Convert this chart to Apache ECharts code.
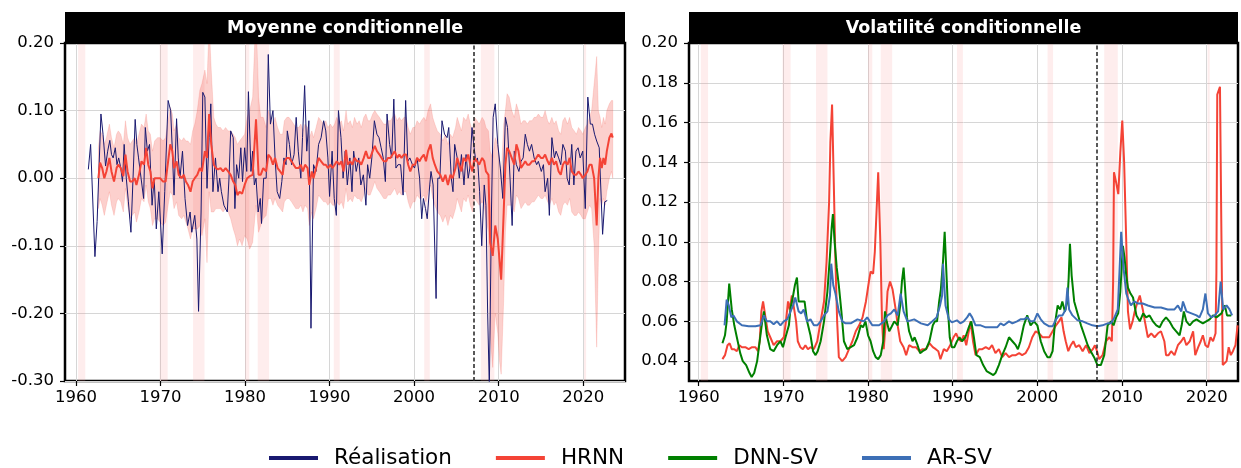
<!DOCTYPE html>
<html>
<head>
<meta charset="utf-8">
<script src="https://cdn.jsdelivr.net/npm/echarts@6/dist/echarts.min.js"></script>
<style>
  html, body { margin: 0; padding: 0; background: #fff; }
  #chart { width: 1241px; height: 468px; }
</style>
</head>
<body>
<div id="chart"></div>
<script>
// ---------------------------------------------------------------- data
const decadeTicks = [1960, 1970, 1980, 1990, 2000, 2010, 2020];
const meanTicks = [-0.3, -0.2, -0.1, 0, 0.1, 0.2];
const volTicks = [0.04, 0.06, 0.08, 0.10, 0.12, 0.14, 0.16, 0.18, 0.20];

// NBER recessions [start, end]
const recessions = [
  [1960.25, 1961.1], [1969.9, 1970.85], [1973.85, 1975.2], [1980.0, 1980.5],
  [1981.5, 1982.85], [1990.5, 1991.2], [2001.2, 2001.85], [2007.9, 2009.5],
  [2020.1, 2020.35]
];
const forecastStart = 2007;

// realised value [year, value]
const realisation = [
  [1961.46,0.013],[1961.73,0.05],[1962.24,-0.116],[1962.5,-0.064],[1962.95,0.095],[1963.2,0.065],[1963.5,0.018],[1963.75,0.04],
  [1964.0,0.056],[1964.2,0.035],[1964.4,0.03],[1964.65,0.045],[1964.85,0.02],[1965.05,0.03],[1965.3,0.015],[1965.5,-0.005],
  [1965.7,0.05],[1965.95,0.0],[1966.2,-0.035],[1966.5,-0.08],[1966.75,0.0],[1967.0,0.087],[1967.2,0.05],[1967.4,0.03],
  [1967.7,0.0],[1968.0,-0.03],[1968.2,0.075],[1968.45,0.04],[1968.7,0.05],[1969.0,-0.04],[1969.25,0.0],[1969.5,-0.075],
  [1969.8,-0.02],[1970.2,-0.112],[1970.5,-0.02],[1970.9,0.115],[1971.2,0.1],[1971.4,0.04],[1971.6,-0.025],[1971.9,0.088],
  [1972.1,0.03],[1972.3,0.0],[1972.6,0.04],[1972.9,-0.03],[1973.2,-0.07],[1973.5,-0.05],[1973.7,-0.08],[1974.05,-0.055],
  [1974.3,-0.09],[1974.5,-0.197],[1974.8,-0.05],[1975.0,0.127],[1975.25,0.12],[1975.5,-0.015],[1975.75,0.06],[1975.95,0.11],
  [1976.2,-0.02],[1976.5,0.03],[1976.8,-0.02],[1977.0,0.0],[1977.2,-0.02],[1977.5,-0.04],[1977.9,-0.05],[1978.1,0.0],
  [1978.3,0.07],[1978.6,0.06],[1978.8,-0.045],[1979.0,0.02],[1979.25,0.0],[1979.5,0.045],[1979.7,-0.005],[1979.95,0.045],
  [1980.2,0.01],[1980.4,0.128],[1980.7,0.01],[1980.9,0.04],[1981.1,-0.01],[1981.3,0.0],[1981.55,-0.05],[1981.8,-0.03],
  [1981.95,-0.067],[1982.2,0.0],[1982.5,0.0],[1982.75,0.183],[1983.0,0.08],[1983.3,0.1],[1983.55,0.03],[1983.8,-0.02],
  [1984.1,-0.03],[1984.35,-0.005],[1984.6,0.03],[1984.85,0.02],[1985.0,0.07],[1985.25,0.05],[1985.5,0.02],[1985.8,0.035],
  [1986.05,0.09],[1986.3,0.04],[1986.6,0.0],[1986.8,0.06],[1987.05,0.137],[1987.3,0.04],[1987.55,0.085],[1987.8,-0.222],
  [1988.1,0.02],[1988.4,0.01],[1988.7,0.05],[1989.0,0.06],[1989.3,0.085],[1989.55,0.07],[1989.8,0.03],[1990.0,-0.027],
  [1990.3,0.04],[1990.55,-0.03],[1990.8,-0.055],[1991.05,0.1],[1991.35,0.06],[1991.6,0.0],[1991.85,0.04],[1992.1,-0.01],
  [1992.4,0.03],[1992.65,-0.02],[1992.85,0.04],[1993.15,0.01],[1993.45,0.03],[1993.7,-0.01],[1994.0,0.005],[1994.3,-0.04],
  [1994.5,0.02],[1994.75,0.0],[1995.0,0.03],[1995.3,0.085],[1995.6,0.065],[1995.85,0.06],[1996.1,0.045],[1996.35,0.03],
  [1996.6,-0.005],[1996.8,0.095],[1997.1,0.05],[1997.35,0.03],[1997.6,0.117],[1997.85,0.015],[1998.1,0.02],[1998.4,0.02],
  [1998.7,-0.025],[1999.0,0.115],[1999.25,0.025],[1999.5,0.03],[1999.8,0.02],[2000.05,0.015],[2000.35,0.03],[2000.65,0.0],
  [2000.9,-0.06],[2001.1,-0.03],[2001.35,-0.045],[2001.55,-0.06],[2001.85,-0.01],[2002.0,0.01],[2002.25,-0.01],[2002.6,-0.178],
  [2002.8,0.0],[2003.05,0.0],[2003.3,0.085],[2003.6,0.065],[2003.9,0.06],[2004.1,0.075],[2004.4,0.0],[2004.6,-0.02],
  [2004.8,0.05],[2005.1,0.03],[2005.35,0.0],[2005.6,0.035],[2005.9,-0.01],[2006.15,0.035],[2006.4,0.0],[2006.6,0.015],
  [2006.85,0.075],[2007.1,0.045],[2007.3,0.025],[2007.5,0.03],[2007.75,-0.02],[2008.0,-0.1],[2008.3,-0.01],[2008.5,-0.04],
  [2008.7,-0.2],[2008.9,-0.31],[2009.15,-0.05],[2009.35,0.09],[2009.6,0.11],[2009.9,0.05],[2010.2,0.015],[2010.5,-0.03],
  [2010.8,0.09],[2011.05,0.075],[2011.35,0.0],[2011.6,-0.07],[2011.85,0.04],[2012.1,0.02],[2012.4,0.01],[2012.65,0.025],
  [2012.9,0.03],[2013.15,0.065],[2013.4,0.05],[2013.65,0.04],[2013.9,0.05],[2014.2,0.03],[2014.5,0.02],[2014.7,0.025],
  [2015.05,0.01],[2015.3,0.02],[2015.5,-0.02],[2015.8,0.0],[2016.0,-0.055],[2016.3,0.06],[2016.6,0.03],[2016.8,0.04],
  [2017.1,0.03],[2017.35,0.02],[2017.6,0.05],[2017.9,0.04],[2018.1,0.0],[2018.35,-0.01],[2018.65,0.05],[2018.9,-0.01],
  [2019.15,0.04],[2019.4,0.045],[2019.65,0.03],[2019.95,0.04],[2020.25,-0.045],[2020.55,0.12],[2020.85,0.08],[2021.1,0.08],
  [2021.35,0.065],[2021.6,0.055],[2021.9,0.045],[2022.3,-0.083],[2022.55,-0.035],[2022.85,-0.033]
];

// HRNN conditional mean [year, value]
const hrnnMean = [
  [1962.65,0.0],[1962.85,0.023],[1963.1,0.015],[1963.35,0.0],[1963.6,0.01],[1963.95,0.03],[1964.2,0.01],[1964.5,-0.005],
  [1964.8,0.015],[1965.0,0.02],[1965.3,0.015],[1965.6,0.003],[1965.85,0.035],[1966.1,0.01],[1966.4,-0.005],[1966.65,-0.005],
  [1966.95,0.0],[1967.15,-0.01],[1967.45,0.005],[1967.75,0.025],[1968.05,0.02],[1968.3,0.045],[1968.55,0.02],[1968.8,0.01],
  [1969.05,-0.015],[1969.3,0.0],[1969.65,0.0],[1969.95,0.0],[1970.3,-0.005],[1970.6,-0.005],[1970.9,0.025],[1971.15,0.05],
  [1971.4,0.04],[1971.6,0.015],[1971.9,0.025],[1972.15,0.005],[1972.5,0.0],[1972.75,0.005],[1973.0,-0.005],[1973.25,-0.01],
  [1973.55,-0.02],[1973.8,-0.005],[1974.05,0.0],[1974.35,0.005],[1974.65,0.015],[1974.9,0.01],[1975.25,0.04],[1975.5,0.03],
  [1975.75,0.095],[1976.0,0.05],[1976.3,0.02],[1976.55,0.015],[1976.8,0.013],[1977.1,0.015],[1977.4,0.01],[1977.7,0.015],
  [1978.0,0.01],[1978.3,0.005],[1978.6,-0.005],[1978.85,-0.01],[1979.1,-0.025],[1979.35,-0.02],[1979.65,-0.023],[1979.95,-0.01],
  [1980.25,0.0],[1980.55,0.003],[1980.9,0.005],[1981.3,0.087],[1981.6,0.005],[1981.85,0.005],[1982.15,0.015],[1982.5,0.01],
  [1982.75,0.035],[1983.05,0.03],[1983.3,0.02],[1983.55,0.03],[1983.85,0.015],[1984.15,0.01],[1984.45,0.005],[1984.65,0.025],
  [1984.95,0.03],[1985.2,0.03],[1985.5,0.025],[1985.75,0.02],[1986.0,0.015],[1986.35,0.015],[1986.6,0.02],[1986.85,0.01],
  [1987.1,0.02],[1987.4,0.015],[1987.6,-0.01],[1987.9,0.01],[1988.1,0.0],[1988.4,0.015],[1988.7,0.03],[1989.0,0.025],
  [1989.3,0.02],[1989.55,0.02],[1989.8,0.015],[1990.1,0.02],[1990.35,0.015],[1990.6,0.02],[1990.85,0.025],[1991.15,0.02],
  [1991.4,0.025],[1991.65,0.01],[1991.95,0.042],[1992.15,0.02],[1992.45,0.025],[1992.7,0.02],[1992.95,0.03],[1993.25,0.025],
  [1993.5,0.025],[1993.75,0.02],[1994.05,0.03],[1994.3,0.04],[1994.55,0.03],[1994.8,0.03],[1995.1,0.04],[1995.35,0.048],
  [1995.6,0.04],[1995.9,0.035],[1996.15,0.03],[1996.4,0.025],[1996.7,0.025],[1996.9,0.03],[1997.2,0.03],[1997.45,0.035],
  [1997.7,0.04],[1998.0,0.03],[1998.25,0.035],[1998.5,0.03],[1998.8,0.035],[1999.05,0.035],[1999.3,0.02],[1999.55,0.01],
  [1999.85,0.02],[2000.1,0.02],[2000.35,0.03],[2000.65,0.025],[2000.85,0.03],[2001.15,0.035],[2001.4,0.025],[2001.65,0.04],
  [2001.95,0.05],[2002.2,0.03],[2002.45,0.02],[2002.75,0.01],[2003.1,0.005],[2003.4,-0.005],[2003.7,0.005],[2004.0,-0.01],
  [2004.3,0.005],[2004.55,0.0],[2004.9,0.015],[2005.1,0.03],[2005.35,0.02],[2005.6,0.01],[2005.85,0.03],[2006.15,0.025],
  [2006.4,0.035],[2006.65,0.02],[2006.9,0.01],[2007.15,0.03],[2007.45,0.025],[2007.7,0.02],[2008.05,0.03],[2008.3,0.025],
  [2008.5,0.01],[2008.8,0.005],[2009.0,-0.095],[2009.3,-0.115],[2009.6,-0.07],[2009.9,-0.09],[2010.1,-0.12],[2010.3,-0.15],
  [2010.6,-0.05],[2010.8,0.02],[2011.0,0.045],[2011.25,0.04],[2011.55,0.03],[2011.85,0.02],[2012.1,0.05],[2012.35,0.04],
  [2012.65,0.015],[2012.9,0.02],[2013.15,0.025],[2013.4,0.02],[2013.65,0.02],[2013.95,0.025],[2014.2,0.025],[2014.45,0.03],
  [2014.7,0.035],[2015.0,0.03],[2015.25,0.03],[2015.5,0.035],[2015.8,0.025],[2016.0,0.02],[2016.3,0.03],[2016.55,0.02],
  [2016.8,0.025],[2017.1,0.01],[2017.35,0.005],[2017.6,0.02],[2017.85,0.025],[2018.15,0.02],[2018.4,0.03],[2018.65,0.01],
  [2018.95,0.005],[2019.2,0.005],[2019.45,0.01],[2019.75,0.005],[2019.95,0.0],[2020.25,0.005],[2020.5,0.01],[2020.75,0.02],
  [2021.0,0.02],[2021.3,0.0],[2021.6,-0.07],[2021.8,0.0],[2022.0,0.03],[2022.2,0.015],[2022.4,0.03],[2022.6,0.02],
  [2022.8,0.04],[2023.1,0.06],[2023.35,0.066],[2023.5,0.06]
];

// HRNN interval around the mean [year, low, high]
const hrnnBand = [
  [1962.65,-0.045,0.045],[1962.85,-0.03,0.07],[1963.1,-0.04,0.065],[1963.35,-0.055,0.05],[1963.6,-0.04,0.06],[1963.95,-0.02,0.08],
  [1964.2,-0.04,0.06],[1964.5,-0.055,0.045],[1964.8,-0.035,0.065],[1965.0,-0.03,0.07],[1965.3,-0.035,0.065],[1965.6,-0.05,0.05],
  [1965.85,-0.015,0.085],[1966.1,-0.04,0.06],[1966.4,-0.06,0.05],[1966.65,-0.055,0.055],[1966.95,-0.05,0.06],[1967.15,-0.065,0.05],
  [1967.45,-0.05,0.065],[1967.75,-0.03,0.08],[1968.05,-0.035,0.075],[1968.3,-0.01,0.095],[1968.55,-0.035,0.07],[1968.8,-0.045,0.065],
  [1969.05,-0.07,0.04],[1969.3,-0.06,0.055],[1969.65,-0.06,0.06],[1969.95,-0.065,0.06],[1970.3,-0.07,0.055],[1970.6,-0.065,0.06],
  [1970.9,-0.04,0.085],[1971.15,-0.02,0.105],[1971.4,-0.025,0.095],[1971.6,-0.045,0.07],[1971.9,-0.035,0.08],[1972.15,-0.055,0.06],
  [1972.5,-0.06,0.055],[1972.75,-0.055,0.06],[1973.0,-0.065,0.055],[1973.25,-0.075,0.055],[1973.55,-0.09,0.05],[1973.8,-0.075,0.07],
  [1974.05,-0.075,0.08],[1974.35,-0.075,0.1],[1974.65,-0.07,0.13],[1974.9,-0.085,0.14],[1975.25,-0.06,0.16],[1975.5,-0.125,0.14],
  [1975.75,-0.02,0.23],[1976.0,-0.05,0.16],[1976.3,-0.05,0.09],[1976.55,-0.045,0.08],[1976.8,-0.045,0.075],[1977.1,-0.045,0.075],
  [1977.4,-0.05,0.07],[1977.7,-0.045,0.075],[1978.0,-0.05,0.07],[1978.3,-0.06,0.07],[1978.6,-0.075,0.065],[1978.85,-0.085,0.06],
  [1979.1,-0.1,0.05],[1979.35,-0.09,0.055],[1979.65,-0.1,0.06],[1979.95,-0.085,0.065],[1980.25,-0.09,0.09],[1980.55,-0.105,0.1],
  [1980.9,-0.095,0.12],[1981.3,-0.04,0.25],[1981.6,-0.08,0.12],[1981.85,-0.07,0.09],[1982.15,-0.06,0.09],[1982.5,-0.055,0.075],
  [1982.75,-0.03,0.1],[1983.05,-0.03,0.09],[1983.3,-0.04,0.08],[1983.55,-0.03,0.09],[1983.85,-0.04,0.075],[1984.15,-0.045,0.065],
  [1984.45,-0.05,0.065],[1984.65,-0.035,0.085],[1984.95,-0.03,0.09],[1985.2,-0.03,0.09],[1985.5,-0.035,0.085],[1985.75,-0.04,0.08],
  [1986.0,-0.045,0.075],[1986.35,-0.045,0.075],[1986.6,-0.04,0.08],[1986.85,-0.05,0.07],[1987.1,-0.04,0.08],[1987.4,-0.045,0.075],
  [1987.6,-0.07,0.06],[1987.9,-0.05,0.07],[1988.1,-0.06,0.06],[1988.4,-0.045,0.075],[1988.7,-0.025,0.09],[1989.0,-0.03,0.085],
  [1989.3,-0.035,0.08],[1989.55,-0.035,0.085],[1989.8,-0.04,0.075],[1990.1,-0.035,0.08],[1990.35,-0.04,0.075],[1990.6,-0.04,0.08],
  [1990.85,-0.035,0.09],[1991.15,-0.04,0.08],[1991.4,-0.035,0.085],[1991.65,-0.045,0.07],[1991.95,-0.015,0.1],[1992.15,-0.035,0.08],
  [1992.45,-0.03,0.085],[1992.7,-0.035,0.075],[1992.95,-0.025,0.09],[1993.25,-0.03,0.08],[1993.5,-0.03,0.085],[1993.75,-0.035,0.075],
  [1994.05,-0.025,0.09],[1994.3,-0.015,0.095],[1994.55,-0.025,0.085],[1994.8,-0.025,0.085],[1995.1,-0.015,0.095],[1995.35,-0.005,0.1],
  [1995.6,-0.015,0.095],[1995.9,-0.02,0.09],[1996.15,-0.025,0.085],[1996.4,-0.03,0.08],[1996.7,-0.03,0.08],[1996.9,-0.025,0.085],
  [1997.2,-0.025,0.085],[1997.45,-0.02,0.09],[1997.7,-0.015,0.095],[1998.0,-0.025,0.085],[1998.25,-0.02,0.09],[1998.5,-0.025,0.085],
  [1998.8,-0.02,0.09],[1999.05,-0.02,0.09],[1999.3,-0.035,0.075],[1999.55,-0.045,0.065],[1999.85,-0.035,0.075],[2000.1,-0.035,0.075],
  [2000.35,-0.025,0.085],[2000.65,-0.03,0.08],[2000.85,-0.03,0.085],[2001.15,-0.025,0.09],[2001.4,-0.035,0.085],[2001.65,-0.02,0.1],
  [2001.95,-0.01,0.11],[2002.2,-0.03,0.09],[2002.45,-0.04,0.08],[2002.75,-0.05,0.07],[2003.1,-0.055,0.065],[2003.4,-0.065,0.055],
  [2003.7,-0.055,0.065],[2004.0,-0.07,0.05],[2004.3,-0.055,0.065],[2004.55,-0.06,0.06],[2004.9,-0.045,0.075],[2005.1,-0.03,0.09],
  [2005.35,-0.04,0.08],[2005.6,-0.05,0.07],[2005.85,-0.03,0.09],[2006.15,-0.035,0.085],[2006.4,-0.025,0.095],[2006.65,-0.04,0.08],
  [2006.9,-0.05,0.07],[2007.15,-0.03,0.09],[2007.45,-0.035,0.085],[2007.7,-0.04,0.08],[2008.05,-0.035,0.09],[2008.3,-0.04,0.085],
  [2008.5,-0.06,0.075],[2008.8,-0.08,0.07],[2009.0,-0.23,0.04],[2009.3,-0.28,0.03],[2009.6,-0.2,0.06],[2009.9,-0.23,0.05],
  [2010.1,-0.27,0.03],[2010.3,-0.29,0.0],[2010.6,-0.18,0.08],[2010.8,-0.08,0.1],[2011.0,-0.04,0.125],[2011.25,-0.04,0.12],
  [2011.55,-0.04,0.1],[2011.85,-0.05,0.09],[2012.1,-0.025,0.11],[2012.35,-0.03,0.1],[2012.65,-0.045,0.08],[2012.9,-0.04,0.085],
  [2013.15,-0.035,0.085],[2013.4,-0.04,0.08],[2013.65,-0.04,0.085],[2013.95,-0.035,0.085],[2014.2,-0.035,0.09],[2014.45,-0.03,0.09],
  [2014.7,-0.025,0.095],[2015.0,-0.03,0.09],[2015.25,-0.03,0.09],[2015.5,-0.025,0.1],[2015.8,-0.035,0.085],[2016.0,-0.04,0.08],
  [2016.3,-0.03,0.09],[2016.55,-0.04,0.08],[2016.8,-0.035,0.085],[2017.1,-0.05,0.07],[2017.35,-0.055,0.065],[2017.6,-0.04,0.085],
  [2017.85,-0.035,0.09],[2018.15,-0.04,0.08],[2018.4,-0.03,0.09],[2018.65,-0.05,0.075],[2018.95,-0.055,0.07],[2019.2,-0.055,0.065],
  [2019.45,-0.05,0.075],[2019.75,-0.055,0.07],[2019.95,-0.06,0.065],[2020.25,-0.06,0.075],[2020.5,-0.05,0.08],[2020.75,-0.04,0.09],
  [2021.0,-0.045,0.1],[2021.3,-0.1,0.14],[2021.6,-0.25,0.18],[2021.8,-0.12,0.1],[2022.0,-0.03,0.09],[2022.2,-0.04,0.075],
  [2022.4,-0.03,0.09],[2022.6,-0.04,0.08],[2022.8,-0.02,0.1],[2023.1,0.0,0.11],[2023.35,0.01,0.115],[2023.5,0.0,0.115]
];

// conditional volatility [year, value]
const hrnnVol = [
  [1962.8,0.041],[1963.1,0.043],[1963.4,0.048],[1963.65,0.049],[1963.9,0.046],[1964.2,0.046],[1964.5,0.045],[1964.8,0.048],
  [1965.1,0.047],[1965.5,0.047],[1965.9,0.046],[1966.3,0.047],[1966.7,0.047],[1967.0,0.045],[1967.2,0.05],[1967.4,0.065],
  [1967.6,0.07],[1967.85,0.063],[1968.15,0.055],[1968.45,0.052],[1968.85,0.048],[1969.25,0.05],[1969.65,0.05],[1970.05,0.052],
  [1970.3,0.06],[1970.55,0.07],[1970.75,0.066],[1971.0,0.073],[1971.2,0.068],[1971.5,0.06],[1971.7,0.05],[1972.0,0.047],
  [1972.3,0.046],[1972.6,0.048],[1972.9,0.046],[1973.2,0.047],[1973.6,0.046],[1974.0,0.05],[1974.4,0.06],[1974.8,0.07],
  [1975.1,0.09],[1975.4,0.12],[1975.55,0.15],[1975.75,0.169],[1975.95,0.13],[1976.15,0.09],[1976.35,0.06],[1976.55,0.042],
  [1976.95,0.04],[1977.35,0.042],[1977.75,0.046],[1978.15,0.05],[1978.55,0.055],[1978.95,0.058],[1979.35,0.062],[1979.75,0.07],
  [1980.1,0.08],[1980.3,0.085],[1980.6,0.084],[1980.8,0.095],[1981.05,0.12],[1981.2,0.135],[1981.45,0.1],[1981.65,0.06],
  [1981.85,0.046],[1982.1,0.06],[1982.3,0.075],[1982.6,0.08],[1982.9,0.076],[1983.1,0.076],[1983.3,0.065],[1983.5,0.058],
  [1983.8,0.05],[1984.2,0.047],[1984.5,0.043],[1984.85,0.048],[1985.25,0.047],[1985.65,0.047],[1986.05,0.045],[1986.45,0.046],
  [1986.85,0.046],[1987.25,0.049],[1987.65,0.047],[1988.0,0.046],[1988.3,0.045],[1988.55,0.041],[1988.95,0.046],[1989.3,0.045],
  [1989.7,0.048],[1990.1,0.052],[1990.4,0.054],[1990.7,0.051],[1991.0,0.05],[1991.3,0.053],[1991.6,0.048],[1991.9,0.055],
  [1992.1,0.06],[1992.4,0.05],[1992.7,0.043],[1993.1,0.046],[1993.5,0.046],[1993.9,0.047],[1994.3,0.046],[1994.65,0.048],
  [1995.05,0.044],[1995.45,0.046],[1995.85,0.042],[1996.25,0.044],[1996.65,0.042],[1997.05,0.043],[1997.45,0.043],[1997.85,0.044],
  [1998.2,0.043],[1998.6,0.044],[1999.0,0.047],[1999.4,0.052],[1999.8,0.055],[2000.2,0.054],[2000.6,0.052],[2001.0,0.052],
  [2001.4,0.052],[2001.8,0.055],[2002.2,0.058],[2002.55,0.06],[2002.85,0.062],[2003.1,0.055],[2003.35,0.05],[2003.65,0.045],
  [2003.95,0.048],[2004.25,0.05],[2004.55,0.047],[2004.95,0.048],[2005.35,0.045],[2005.75,0.048],[2006.15,0.044],[2006.55,0.046],
  [2006.8,0.048],[2007.05,0.045],[2007.3,0.041],[2007.7,0.043],[2008.1,0.05],[2008.5,0.052],[2008.8,0.05],[2008.95,0.08],
  [2009.05,0.135],[2009.3,0.13],[2009.56,0.124],[2009.8,0.145],[2010.03,0.161],[2010.25,0.14],[2010.5,0.1],[2010.7,0.065],
  [2010.95,0.056],[2011.25,0.06],[2011.5,0.065],[2011.85,0.07],[2012.1,0.073],[2012.45,0.066],[2012.7,0.06],[2013.05,0.052],
  [2013.45,0.054],[2013.85,0.052],[2014.25,0.054],[2014.6,0.055],[2015.0,0.05],[2015.2,0.043],[2015.5,0.043],[2015.8,0.045],
  [2016.2,0.043],[2016.6,0.048],[2017.0,0.05],[2017.3,0.052],[2017.6,0.048],[2018.0,0.05],[2018.4,0.055],[2018.65,0.043],
  [2019.0,0.047],[2019.3,0.05],[2019.55,0.053],[2019.85,0.048],[2020.15,0.047],[2020.45,0.052],[2020.75,0.05],[2021.05,0.054],
  [2021.15,0.085],[2021.25,0.174],[2021.57,0.178],[2021.75,0.1],[2021.9,0.038],[2022.35,0.04],[2022.6,0.047],[2022.85,0.043],
  [2023.1,0.045],[2023.4,0.048],[2023.65,0.058]
];

const dnnsvVol = [
  [1962.8,0.049],[1963.1,0.053],[1963.3,0.06],[1963.6,0.079],[1963.9,0.066],[1964.2,0.058],[1964.5,0.052],[1964.9,0.044],
  [1965.2,0.04],[1965.6,0.038],[1966.0,0.034],[1966.25,0.032],[1966.55,0.034],[1966.9,0.04],[1967.2,0.05],[1967.5,0.06],
  [1967.7,0.065],[1968.05,0.053],[1968.45,0.046],[1968.85,0.045],[1969.25,0.048],[1969.65,0.05],[1969.95,0.047],[1970.25,0.052],
  [1970.65,0.058],[1970.85,0.067],[1971.15,0.073],[1971.35,0.078],[1971.6,0.082],[1971.8,0.07],[1972.2,0.07],[1972.5,0.07],
  [1972.8,0.06],[1973.2,0.053],[1973.5,0.045],[1973.8,0.043],[1974.05,0.045],[1974.4,0.05],[1974.8,0.06],[1975.2,0.075],
  [1975.5,0.093],[1975.7,0.107],[1975.85,0.114],[1976.05,0.1],[1976.3,0.087],[1976.55,0.078],[1976.85,0.065],[1977.15,0.05],
  [1977.55,0.046],[1977.95,0.047],[1978.35,0.048],[1978.75,0.052],[1979.15,0.058],[1979.4,0.057],[1979.7,0.06],[1980.0,0.053],
  [1980.3,0.05],[1980.6,0.045],[1980.9,0.042],[1981.2,0.041],[1981.5,0.043],[1981.8,0.05],[1982.0,0.065],[1982.2,0.06],
  [1982.5,0.055],[1982.75,0.057],[1983.1,0.06],[1983.5,0.058],[1983.8,0.068],[1984.0,0.08],[1984.2,0.087],[1984.35,0.078],
  [1984.6,0.062],[1984.85,0.055],[1985.25,0.05],[1985.5,0.052],[1985.85,0.048],[1986.15,0.044],[1986.45,0.045],[1986.85,0.046],
  [1987.25,0.05],[1987.65,0.058],[1987.9,0.06],[1988.15,0.06],[1988.4,0.07],[1988.6,0.076],[1988.85,0.09],[1989.05,0.105],
  [1989.25,0.085],[1989.45,0.065],[1989.65,0.052],[1989.9,0.047],[1990.2,0.047],[1990.5,0.05],[1990.8,0.052],[1991.1,0.05],
  [1991.5,0.052],[1991.9,0.057],[1992.2,0.06],[1992.5,0.052],[1992.8,0.043],[1993.2,0.042],[1993.6,0.038],[1994.0,0.035],
  [1994.4,0.034],[1994.8,0.033],[1995.05,0.034],[1995.45,0.038],[1995.85,0.043],[1996.25,0.047],[1996.65,0.052],[1997.05,0.05],
  [1997.45,0.048],[1997.7,0.046],[1998.0,0.05],[1998.4,0.058],[1998.8,0.063],[1999.2,0.058],[1999.6,0.06],[2000.0,0.058],
  [2000.4,0.05],[2000.8,0.045],[2001.2,0.042],[2001.5,0.042],[2001.8,0.045],[2002.05,0.058],[2002.4,0.068],[2002.7,0.066],
  [2002.95,0.07],[2003.25,0.065],[2003.55,0.07],[2003.7,0.082],[2003.85,0.099],[2004.05,0.083],[2004.35,0.07],[2004.75,0.064],
  [2005.15,0.058],[2005.55,0.053],[2005.95,0.048],[2006.3,0.045],[2006.7,0.042],[2007.1,0.038],[2007.5,0.038],[2007.9,0.043],
  [2008.3,0.058],[2008.7,0.06],[2009.0,0.058],[2009.3,0.062],[2009.55,0.064],[2009.8,0.075],[2010.1,0.098],[2010.3,0.092],
  [2010.5,0.083],[2010.7,0.077],[2011.0,0.074],[2011.3,0.072],[2011.7,0.063],[2012.1,0.06],[2012.5,0.064],[2012.85,0.062],
  [2013.25,0.063],[2013.65,0.06],[2014.05,0.058],[2014.45,0.057],[2014.8,0.06],[2015.2,0.062],[2015.6,0.06],[2016.0,0.057],
  [2016.4,0.055],[2016.8,0.053],[2017.05,0.058],[2017.3,0.065],[2017.6,0.06],[2018.0,0.058],[2018.4,0.06],[2018.8,0.061],
  [2019.15,0.06],[2019.55,0.059],[2019.95,0.06],[2020.35,0.061],[2020.75,0.063],[2021.15,0.062],[2021.45,0.063],[2021.75,0.064],
  [2022.15,0.068],[2022.4,0.063],[2022.7,0.063],[2022.9,0.063]
];

const arsvVol = [
  [1963.05,0.058],[1963.3,0.071],[1963.55,0.068],[1963.85,0.062],[1964.1,0.063],[1964.5,0.06],[1965.1,0.058],[1965.9,0.0575],
  [1966.7,0.0575],[1967.3,0.058],[1967.7,0.063],[1968.05,0.06],[1968.45,0.06],[1968.85,0.0585],[1969.25,0.06],[1969.65,0.058],
  [1970.05,0.06],[1970.45,0.061],[1970.75,0.064],[1971.15,0.068],[1971.4,0.072],[1971.8,0.065],[1972.1,0.064],[1972.4,0.066],
  [1972.8,0.06],[1973.2,0.061],[1973.6,0.058],[1974.0,0.058],[1974.4,0.06],[1974.8,0.063],[1975.2,0.065],[1975.5,0.073],
  [1975.65,0.089],[1975.9,0.078],[1976.15,0.074],[1976.55,0.065],[1976.95,0.06],[1977.35,0.059],[1977.95,0.059],[1978.75,0.061],
  [1979.5,0.06],[1979.9,0.062],[1980.5,0.058],[1981.3,0.058],[1981.9,0.06],[1982.3,0.063],[1982.7,0.064],[1983.1,0.066],
  [1983.5,0.063],[1983.85,0.074],[1984.2,0.065],[1984.65,0.06],[1985.45,0.061],[1986.25,0.059],[1987.05,0.058],[1987.6,0.06],
  [1988.1,0.062],[1988.5,0.068],[1988.75,0.073],[1988.85,0.089],[1989.15,0.068],[1989.55,0.061],[1989.9,0.0595],[1990.5,0.0605],
  [1990.9,0.059],[1991.3,0.06],[1991.7,0.062],[1992.0,0.064],[1992.3,0.062],[1992.7,0.058],[1993.3,0.058],[1993.9,0.057],
  [1994.5,0.057],[1995.25,0.057],[1995.65,0.059],[1996.05,0.058],[1996.65,0.06],[1997.05,0.059],[1997.6,0.06],[1998.0,0.061],
  [1998.4,0.061],[1998.8,0.062],[1999.2,0.06],[1999.6,0.06],[2000.0,0.064],[2000.4,0.061],[2000.8,0.059],[2001.4,0.0575],
  [2001.8,0.0575],[2002.2,0.061],[2002.55,0.063],[2002.95,0.063],[2003.35,0.066],[2003.55,0.077],[2003.75,0.066],[2004.15,0.063],
  [2004.75,0.0605],[2005.35,0.06],[2005.9,0.059],[2006.5,0.058],[2007.1,0.0575],[2007.7,0.058],[2008.3,0.059],[2008.7,0.059],
  [2009.1,0.062],[2009.5,0.066],[2009.7,0.085],[2009.9,0.105],[2010.2,0.086],[2010.5,0.074],[2010.75,0.071],[2011.05,0.068],
  [2011.45,0.07],[2011.85,0.069],[2012.45,0.069],[2013.05,0.068],[2013.85,0.067],[2014.6,0.067],[2015.4,0.066],[2016.2,0.066],
  [2016.6,0.068],[2017.0,0.065],[2017.2,0.07],[2017.6,0.065],[2018.2,0.064],[2018.8,0.063],[2019.15,0.062],[2019.55,0.066],
  [2019.85,0.074],[2020.15,0.064],[2020.55,0.062],[2020.95,0.063],[2021.35,0.065],[2021.65,0.08],[2021.95,0.066],[2022.35,0.068],
  [2022.7,0.066],[2023.0,0.063]
];

// ---------------------------------------------------------------- style
const FONT = 'DejaVu Sans';
const C_REAL = '#191970';
const C_HRNN = '#f44336';
const C_DNN = '#008000';
const C_AR = '#3d6fb6';
const C_GRID = '#d6d6d6';
const C_RECESSION = 'rgba(250, 140, 140, 0.16)';
const C_BAND = 'rgba(244, 67, 54, 0.25)';
const C_BAND_EDGE = 'rgba(244, 67, 54, 0.15)';

const recessionArea = {
  silent: true,
  itemStyle: { color: C_RECESSION },
  data: recessions.map(r => [{ xAxis: r[0] }, { xAxis: r[1] }])
};
const forecastLine = {
  silent: true,
  symbol: 'none',
  label: { show: false },
  lineStyle: { color: '#222', type: [4, 2.5], width: 1.5 },
  data: [{ xAxis: forecastStart }]
};

function xAxisFor(gridIndex, min, max) {
  return {
    type: 'value', gridIndex, min, max,
    axisLine: { show: false, onZero: false },
    axisTick: { show: true, customValues: decadeTicks, length: 5, lineStyle: { color: '#000', width: 1.2 } },
    axisLabel: {
      customValues: decadeTicks, margin: 8, fontFamily: FONT, fontSize: 16.5, color: '#000',
      formatter: v => String(Math.round(v))
    },
    splitLine: { show: true, lineStyle: { color: C_GRID, width: 1 } }
  };
}
function yAxisFor(gridIndex, min, max, ticks) {
  return {
    type: 'value', gridIndex, min, max,
    axisLine: { show: false },
    axisTick: { show: true, customValues: ticks, length: 5, lineStyle: { color: '#000', width: 1.2 } },
    axisLabel: {
      customValues: ticks, margin: 11, fontFamily: FONT, fontSize: 16.5, color: '#000',
      formatter: v => Number(v).toFixed(2)
    },
    splitLine: { show: true, lineStyle: { color: C_GRID, width: 1 } }
  };
}
function titleBar(x, w, text) {
  return [
    { type: 'rect', shape: { x, y: 12, width: w, height: 32 }, style: { fill: '#000' }, z: 10 },
    {
      type: 'text', x: x + w / 2, y: 28, z: 11,
      style: { text, fill: '#fff', font: 'bold 17.5px "DejaVu Sans"', align: 'center', verticalAlign: 'middle' }
    }
  ];
}

// interval band: one polygon (upper edge forward, lower edge back), clipped to the plot
function renderBand(params, api) {
  const upper = hrnnBand.map(d => api.coord([d[0], d[2]]));
  const lower = hrnnBand.slice().reverse().map(d => api.coord([d[0], d[1]]));
  const cs = params.coordSys;
  return {
    type: 'polygon',
    shape: { points: upper.concat(lower) },
    style: { fill: C_BAND, stroke: C_BAND_EDGE, lineWidth: 1 },
    clipPath: { type: 'rect', shape: { x: cs.x, y: cs.y, width: cs.width, height: cs.height } }
  };
}

const chart = echarts.init(document.getElementById('chart'), null, { renderer: 'canvas' });
chart.setOption({
  animation: false,
  backgroundColor: '#fff',
  textStyle: { fontFamily: FONT },
  grid: [
    { left: 65, top: 43, width: 560, height: 338, show: true, borderColor: '#000', borderWidth: 2.5, backgroundColor: 'transparent' },
    { left: 689, top: 43, width: 549, height: 338, show: true, borderColor: '#000', borderWidth: 2.5, backgroundColor: 'transparent' }
  ],
  xAxis: [xAxisFor(0, 1958.7, 2024.95), xAxisFor(1, 1958.85, 2023.7)],
  yAxis: [yAxisFor(0, -0.3, 0.2, meanTicks), yAxisFor(1, 0.03, 0.2, volTicks)],
  graphic: [
    ...titleBar(65, 560, 'Moyenne conditionnelle'),
    ...titleBar(689, 549, 'Volatilité conditionnelle')
  ],
  legend: {
    data: ['Réalisation', 'HRNN', 'DNN-SV', 'AR-SV'],
    left: 264, top: 442,
    icon: 'rect', itemWidth: 49, itemHeight: 4, itemGap: 44,
    textStyle: { fontFamily: FONT, fontSize: 21.5, color: '#000', padding: [0, 0, 0, 11] },
    selectedMode: false
  },
  series: [
    // --- left panel
    {
      name: 'bande', type: 'custom', xAxisIndex: 0, yAxisIndex: 0,
      silent: true, z: 1,
      data: [[hrnnBand[0][0], hrnnBand[0][1]]],
      renderItem: renderBand
    },
    {
      name: 'Réalisation', type: 'line', xAxisIndex: 0, yAxisIndex: 0,
      symbol: 'none', color: C_REAL, lineStyle: { width: 1, color: C_REAL },
      data: realisation,
      markArea: recessionArea
    },
    {
      name: 'HRNN', type: 'line', xAxisIndex: 0, yAxisIndex: 0,
      symbol: 'none', color: C_HRNN, lineStyle: { width: 2, color: C_HRNN },
      data: hrnnMean,
      markLine: forecastLine
    },
    // --- right panel
    {
      name: 'HRNN', type: 'line', xAxisIndex: 1, yAxisIndex: 1,
      symbol: 'none', color: C_HRNN, lineStyle: { width: 2, color: C_HRNN },
      data: hrnnVol,
      markArea: recessionArea,
      markLine: forecastLine
    },
    {
      name: 'DNN-SV', type: 'line', xAxisIndex: 1, yAxisIndex: 1,
      symbol: 'none', color: C_DNN, lineStyle: { width: 2, color: C_DNN },
      data: dnnsvVol
    },
    {
      name: 'AR-SV', type: 'line', xAxisIndex: 1, yAxisIndex: 1,
      symbol: 'none', color: C_AR, lineStyle: { width: 2, color: C_AR },
      data: arsvVol
    }
  ]
});
</script>
</body>
</html>
